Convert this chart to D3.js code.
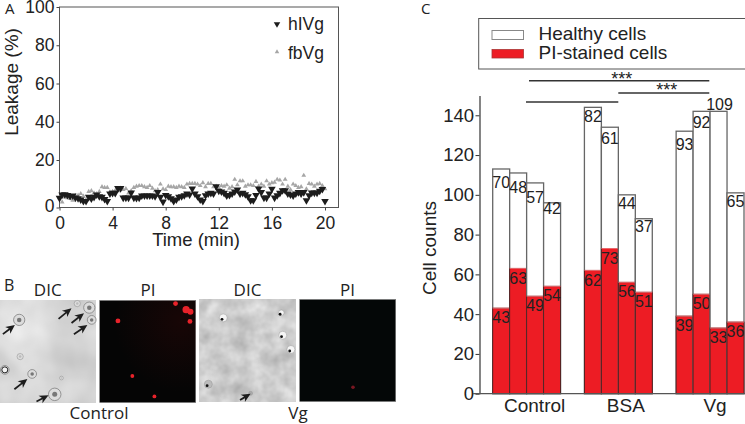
<!DOCTYPE html>
<html><head><meta charset="utf-8">
<script src="https://cdn.jsdelivr.net/npm/d3@7"></script>
<style>
html,body{margin:0;padding:0;background:#fff;overflow:hidden}
svg{display:block}
text{font-family:"Liberation Sans",Arial,sans-serif;fill:#222}
.myr{font-family:"Open Sans",sans-serif}
</style></head><body><svg id="c" width="745" height="424"></svg>
<script>
// Panel A: leakage, one reading every 0.2 min
const times = d3.range(101).map(i => i / 5);
const hIVg = [4.0,5.4,5.5,5.2,4.8,5.0,4.1,3.8,3.3,2.7,2.7,4.4,3.7,4.4,5.4,4.7,4.4,3.5,2.7,5.8,6.1,6.1,8.1,8.1,4.1,4.1,4.1,6.2,4.1,4.0,4.1,5.0,5.0,5.0,5.0,5.0,4.7,6.4,4.4,2.4,5.2,4.7,3.8,2.7,3.3,4.4,4.7,5.1,5.8,5.4,7.9,5.8,4.7,3.3,2.7,5.1,5.8,6.1,5.8,8.9,7.0,6.7,6.1,5.0,5.2,5.8,6.7,7.5,5.8,6.1,5.5,4.7,3.0,3.0,5.2,7.9,6.4,4.1,4.1,5.8,7.8,4.1,5.1,6.1,7.2,7.2,5.8,5.4,5.0,5.8,6.4,5.8,6.4,3.0,5.1,6.2,6.2,6.2,7.0,7.7,2.7];
const fbVg = [4.1,2.3,4.4,4.1,3.7,3.0,5.0,5.1,5.8,4.7,3.3,6.7,7.0,6.1,5.8,6.7,8.7,8.4,8.4,6.5,6.7,7.2,7.0,8.1,7.5,7.9,6.1,7.0,8.4,8.9,9.2,9.2,8.7,8.4,9.2,8.1,7.0,7.5,9.8,7.8,7.5,8.9,8.7,8.7,8.4,8.9,8.7,8.4,9.8,10.1,10.1,10.1,9.8,9.2,10.4,8.7,10.1,10.1,8.7,8.9,8.4,9.2,8.9,9.5,8.1,8.7,11.8,9.5,11.2,11.2,8.9,9.5,9.5,9.2,10.9,8.9,9.8,8.9,11.2,9.8,10.4,10.6,11.8,11.5,9.8,11.8,8.9,7.5,9.8,9.2,8.4,8.7,13.5,7.8,10.1,9.8,8.9,9.8,10.1,9.2,7.8];
const leakTicks = [0,20,40,60,80,100];
const timeTicks = [0,4,8,12,16,20];

// Panel C: cell counts
const groups = ["Control","BSA","Vg"];
const piStained = [[43,63,49,54],[62,73,56,51],[39,50,33,36]];
const healthy = [[70,48,57,42],[82,61,44,37],[93,92,109,65]];
const countTicks = [0,20,40,60,80,100,120,140];
const healthyLabelDy = [[13,14,14,6],[9,11,9,8],[13,11,-6.5,9]];

// Panel B micrograph contents, in fractions of each 96x102 panel
const dicA = {cells:[[.20,.19,9],[.93,.07,9],[.955,.19,7],[.805,.03,5],[.05,.68,7],[.335,.72,7],[.57,.92,10],[.21,.55,5],[.64,.76,3]],
  arrows:[[.03,.33,.155,.24],[.61,.18,.745,.075],[.745,.22,.875,.125],[.77,.33,.91,.24],[.15,.87,.285,.77],[.38,.99,.505,.93]]};
const piA = [[.79,.03,4],[.90,.09,6],[.945,.11,5],[.94,.205,4],[.19,.20,4],[.34,.74,3.2],[.57,.94,3.2]];
const dicB = {spots:[[.245,.18],[.85,.13],[.865,.35],[.95,.49],[.09,.83],[.53,.92]], arrows:[[.42,.985,.53,.925]]};
const piB = [[.555,.86,1.8]];

const svg = d3.select("#c");
const defs = svg.append("defs");
const noise = (id, seed, freq, mid, gain) => {
  const f = defs.append("filter").attr("id", id).attr("x",0).attr("y",0).attr("width","100%").attr("height","100%").attr("color-interpolation-filters","sRGB");
  f.append("feTurbulence").attr("type","fractalNoise").attr("baseFrequency",freq).attr("numOctaves",3).attr("seed",seed);
  const o = mid - gain/2;
  f.append("feColorMatrix").attr("type","matrix").attr("values",
    `${gain} 0 0 0 ${o} ${gain} 0 0 0 ${o} ${gain} 0 0 0 ${o} 0 0 0 0 1`);
};
noise("n1",3,0.02,.84,.22);
noise("n2",8,0.06,.80,.28);
defs.append("filter").attr("id","b2").append("feGaussianBlur").attr("stdDeviation",.5);
const hz = defs.append("radialGradient").attr("id","haze").attr("cx",.85).attr("cy",.2).attr("r",.7);
hz.append("stop").attr("offset",0).attr("stop-color","#5a0a0a").attr("stop-opacity",.22);
hz.append("stop").attr("offset",1).attr("stop-color","#5a0a0a").attr("stop-opacity",0);

const txt = (x,y,s,size,cls,anchor) => svg.append("text").attr("x",x).attr("y",y).attr("dy",".35em")
  .attr("font-size",size).attr("text-anchor",anchor||"middle").attr("class",cls||null).text(s);

// ---------- Panel A
const xA = d3.scaleLinear().domain([0,20]).range([59.5,325]);
const yA = d3.scaleLinear().domain([0,20,100]).range([207.5,160,7]);
const gA = svg.append("g");
gA.append("rect").attr("x",59.5).attr("y",7).attr("width",279).attr("height",200.5).attr("fill","none").attr("stroke","#555").attr("stroke-width",1);
const yAx = gA.append("g").attr("transform","translate(59.5,0)")
  .call(d3.axisLeft(yA).tickValues(leakTicks).tickSize(3).tickPadding(2));
const xAx = gA.append("g").attr("transform","translate(0,207.5)")
  .call(d3.axisBottom(xA).tickValues(timeTicks).tickSize(3).tickPadding(6));
[yAx,xAx].forEach(a=>{a.select(".domain").remove();a.selectAll("line").attr("stroke","#444");
  a.selectAll("text").attr("font-size",17.5).attr("font-family","Liberation Sans").attr("fill","#222");});
yAx.selectAll("text").filter(d=>d===0).attr("dy","0.22em");
const tri = d3.symbol().type(d3.symbolTriangle);
gA.append("g").selectAll("path").data(fbVg).join("path")
  .attr("d",tri.size(10)()).attr("fill","#a6a6a6")
  .attr("transform",(d,i)=>`translate(${xA(times[i])},${yA(d)})`);
gA.append("g").selectAll("path").data(hIVg).join("path")
  .attr("d",tri.size(25)()).attr("fill","#1c1c1c")
  .attr("transform",(d,i)=>`translate(${xA(times[i])},${yA(d)}) rotate(180)`);
gA.append("path").attr("d",tri.size(18)()).attr("fill","#1c1c1c").attr("transform","translate(277,24) rotate(180)");
gA.append("path").attr("d",tri.size(9)()).attr("fill","#a6a6a6").attr("transform","translate(277,52)");
txt(288,24,"hIVg",17.5,null,"start");
txt(288,53,"fbVg",17.5,null,"start");
txt(196,240,"Time (min)",18.5);
svg.append("text").attr("transform","translate(11,82) rotate(-90)").attr("dy",".35em").attr("text-anchor","middle").attr("font-size",19).text("Leakage (%)");
txt(5,9,"A",15,"myr","start");
txt(4,285,"B",16,"myr","start");
txt(421,9,"C",15,"myr","start");

// ---------- Panel B
const panel = (x,y) => ({sx:d3.scaleLinear().domain([0,1]).range([x,x+96]), sy:d3.scaleLinear().domain([0,1]).range([y,y+102])});
const drawArrows = (g,p,list) => list.forEach(a=>{
  const [x1,y1,x2,y2]=[p.sx(a[0]),p.sy(a[1]),p.sx(a[2]),p.sy(a[3])];
  const ang=Math.atan2(y2-y1,x2-x1)*180/Math.PI, len=Math.hypot(x2-x1,y2-y1);
  g.append("path").attr("transform",`translate(${x1},${y1}) rotate(${ang})`)
    .attr("d",`M0,-.9L${len-7},-.9L${len-9},-4.2L${len},0L${len-9},4.2L${len-7},.9L0,.9Z`).attr("fill","#1d1d1d");
});
const pa = panel(0,300.5), pb = panel(99.7,300.5), pc = panel(199.7,299.5), pd = panel(299.7,299.5);
svg.append("rect").attr("x",0).attr("y",300.5).attr("width",96).attr("height",102).attr("filter","url(#n1)");
const gDa = svg.append("g");
dicA.cells.forEach(c=>{
  const cx=pa.sx(c[0]),cy=pa.sy(c[1]),r=c[2]/1.6;
  gDa.append("circle").attr("cx",cx).attr("cy",cy).attr("r",r).attr("fill","#dcdcdc").attr("stroke","#8a8a8a").attr("stroke-width",c[2]>6?.9:.5).attr("filter","url(#b2)");
  gDa.append("circle").attr("cx",cx).attr("cy",cy).attr("r",r*.4).attr("fill",c[2]>6?"#777":"#bbb").attr("filter","url(#b2)");
});
drawArrows(gDa,pa,dicA.arrows);
gDa.append("circle").attr("cx",pa.sx(.05)).attr("cy",pa.sy(.68)).attr("r",3).attr("fill","#f4f4f4").attr("stroke","#222").attr("stroke-width",1);

const blackPanel=(x,y,fill)=>svg.append("rect").attr("x",x).attr("y",y).attr("width",96).attr("height",102).attr("fill",fill).attr("stroke","#777").attr("stroke-width",.6);
blackPanel(99.7,300.5,"#050505");
svg.append("rect").attr("x",99.7).attr("y",300.5).attr("width",96).attr("height",102).attr("fill","url(#haze)");
svg.append("g").selectAll("circle").data(piA).join("circle")
  .attr("cx",d=>pb.sx(d[0])).attr("cy",d=>pb.sy(d[1])).attr("r",d=>d[2]*.6).attr("fill","#e8242a").attr("filter","url(#b2)");

svg.append("rect").attr("x",199.7).attr("y",299.5).attr("width",96).attr("height",102).attr("filter","url(#n2)");
const gDb = svg.append("g");
dicB.spots.forEach((c,i)=>{
  const cx=pc.sx(c[0]),cy=pc.sy(c[1]),last=i===5;
  gDb.append("circle").attr("cx",cx).attr("cy",cy).attr("r",last?2:i===1?2.8:4).attr("fill",last?"#aaa":(i===4?"#bbb":"#f5f5f5")).attr("stroke","#999").attr("stroke-width",.5).attr("filter","url(#b2)");
  if(!last) gDb.append("circle").attr("cx",cx-1.2).attr("cy",cy+1.5).attr("r",1.4).attr("fill","#111");
});
drawArrows(gDb,pc,dicB.arrows);
blackPanel(299.7,299.5,"#040707");
svg.append("g").selectAll("circle").data(piB).join("circle")
  .attr("cx",d=>pd.sx(d[0])).attr("cy",d=>pd.sy(d[1])).attr("r",d=>d[2]).attr("fill","#7a1620").attr("filter","url(#b2)");
txt(47.7,290.5,"DIC",17,"myr"); txt(148,290.5,"PI",17,"myr");
txt(247.5,290.5,"DIC",17,"myr"); txt(347.5,290.5,"PI",17,"myr");
txt(99,413,"Control",17,"myr"); txt(298,413,"Vg",17,"myr");

// ---------- Panel C
const yC = d3.scaleLinear().domain([0,140]).range([393.7,115.3]);
const xG = d3.scaleBand().domain(groups).range([492.7,744]).paddingInner(.26);
const xI = d3.scaleBand().domain(d3.range(4)).range([0,xG.bandwidth()]);
const gC = svg.append("g");
groups.forEach((g,gi)=>{
  const o = gC.append("g").attr("transform",`translate(${xG(g)},0)`);
  d3.range(4).forEach(i=>{
    const p=piStained[gi][i], h=healthy[gi][i], x=xI(i), w=xI.bandwidth();
    o.append("rect").attr("x",x).attr("width",w).attr("y",yC(p+h)).attr("height",yC(0)-yC(p+h))
      .attr("fill","#fff").attr("stroke","#666").attr("stroke-width",1.3);
    o.append("rect").attr("x",x).attr("width",w).attr("y",yC(p)).attr("height",yC(0)-yC(p))
      .attr("fill","#ed1c24").attr("stroke","#4a2020").attr("stroke-width",.9);
    o.append("line").attr("x1",x).attr("x2",x+w).attr("y1",yC(p)).attr("y2",yC(p)).attr("stroke","#ee6a6e").attr("stroke-width",1);
    o.append("text").attr("x",x+w/2+(h>=100?1:0)).attr("y",yC(p+h)+healthyLabelDy[gi][i]).attr("dy",".35em").attr("text-anchor","middle").attr("font-size",16).text(h);
    o.append("text").attr("x",x+w/2).attr("y",yC(p)+9.5).attr("dy",".35em").attr("text-anchor","middle").attr("font-size",16).text(p);
  });
});
const yCx = gC.append("g").attr("transform","translate(479.5,0)")
  .call(d3.axisLeft(yC.copy().domain([0,150]).range([393.7,95.4])).tickValues(countTicks).tickSize(4).tickPadding(1.5).tickSizeOuter(0));
yCx.select(".domain").attr("stroke","#333").attr("stroke-width",1.2);
yCx.selectAll("line").attr("stroke","#333");
yCx.selectAll("text").attr("font-size",18.5).attr("font-family","Liberation Sans").attr("fill","#222");
gC.append("line").attr("x1",473).attr("x2",745).attr("y1",393.7).attr("y2",393.7).attr("stroke","#555").attr("stroke-width",1.2);
const groupNudge = [8,7.5,5];
groups.forEach((g,i)=>txt(xG(g)+xG.bandwidth()/2+groupNudge[i],405,g,19));
svg.append("text").attr("transform","translate(429,248) rotate(-90)").attr("dy",".35em").attr("text-anchor","middle").attr("font-size",19).text("Cell counts");

// legend
svg.append("rect").attr("x",478.7).attr("y",18.5).attr("width",270).attr("height",50.5).attr("fill","#fff").attr("stroke","#555").attr("stroke-width",1);
svg.append("rect").attr("x",492).attr("y",30.5).attr("width",31.5).attr("height",9).attr("fill","#fff").attr("stroke","#888").attr("stroke-width",1);
svg.append("rect").attr("x",492).attr("y",49.5).attr("width",31.5).attr("height",8.5).attr("fill","#ed1c24").attr("stroke","#a33").attr("stroke-width",.8);
txt(538.5,33.5,"Healthy cells",19,null,"start");
txt(538.5,52,"PI-stained cells",19,null,"start");

// significance bars
const sig = [[529,709.3,80.7],[618.3,709.3,93],[526,618.3,102]];
svg.append("g").selectAll("line").data(sig).join("line")
  .attr("x1",d=>d[0]).attr("x2",d=>d[1]).attr("y1",d=>d[2]).attr("y2",d=>d[2]).attr("stroke","#333").attr("stroke-width",1.6);
txt(621.7,78.4,"***",18); txt(666.7,89.7,"***",18);
</script></body></html>
